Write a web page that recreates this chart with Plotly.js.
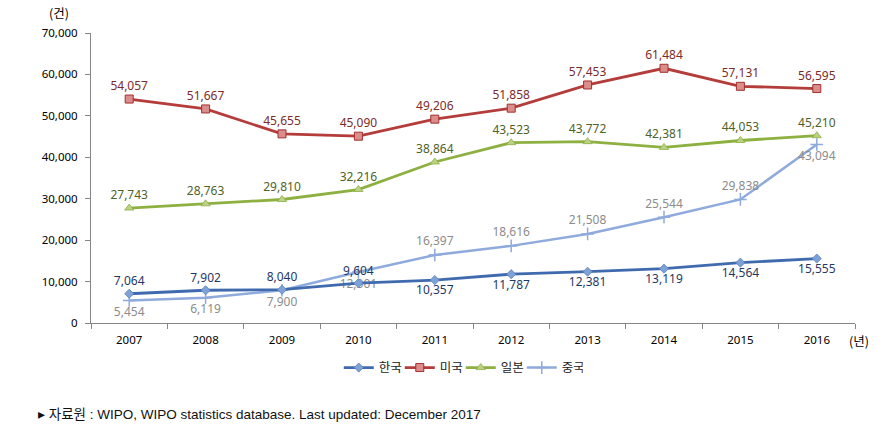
<!DOCTYPE html>
<html>
<head>
<meta charset="utf-8">
<script src="https://cdn.plot.ly/plotly-3.0.1.min.js"></script>
<style>html,body{margin:0;padding:0;background:#fff;}#chart{width:891px;height:441px;}</style>
</head>
<body>
<div id="chart"></div>
<script>
const years = ['2007','2008','2009','2010','2011','2012','2013','2014','2015','2016'];
const korea = [7064, 7902, 8040, 9604, 10357, 11787, 12381, 13119, 14564, 15555];
const usa = [54057, 51667, 45655, 45090, 49206, 51858, 57453, 61484, 57131, 56595];
const japan = [27743, 28763, 29810, 32216, 38864, 43523, 43772, 42381, 44053, 45210];
const china = [5454, 6119, 7900, 12301, 16397, 18616, 21508, 25544, 29838, 43094];
const seriesNames = ['한국', '미국', '일본', '중국'];
const yTicks = [0, 10000, 20000, 30000, 40000, 50000, 60000, 70000];

const koreaPos = ['top center','top center','top center','top center','bottom center','bottom center','bottom center','bottom center','bottom center','bottom center'];
const chinaPos = ['bottom center','bottom center','bottom center','bottom center','top center','top center','top center','top center','top center','bottom center'];

const F = '"Noto Sans", "Noto Sans CJK KR", sans-serif';
const FK = '"Noto Sans CJK KR", sans-serif';
const lblFont = (c) => ({family: F, size: 12, color: c});

const traces = [
  {x: years, y: china, name: seriesNames[3], type: 'scatter', mode: 'lines+markers+text',
   line: {color: '#8FAADC', width: 2.5},
   marker: {symbol: 'cross-thin', size: 9, line: {color: '#8FAADC', width: 1.5}, color: '#8FAADC'},
   texttemplate: '%{y:,}', textposition: chinaPos, textfont: lblFont('#8C8C8C'), legendrank: 4},
  {x: years, y: korea, name: seriesNames[0], type: 'scatter', mode: 'lines+markers+text',
   line: {color: '#3F6AAE', width: 2.8},
   marker: {symbol: 'diamond', size: 7, color: '#7EA2D6', line: {color: '#5A82BE', width: 0.8}},
   texttemplate: '%{y:,}', textposition: koreaPos, textfont: lblFont('#1F3864'), legendrank: 1},
  {x: years, y: usa, name: seriesNames[1], type: 'scatter', mode: 'lines+markers+text',
   line: {color: '#B43C3A', width: 2.8},
   marker: {symbol: 'square', size: 8, color: '#DB8D8B', line: {color: '#A0302E', width: 1}},
   texttemplate: '%{y:,}', textposition: 'top center', textfont: lblFont('#7B2B2B'), legendrank: 2},
  {x: years, y: japan, name: seriesNames[2], type: 'scatter', mode: 'lines+markers+text',
   line: {color: '#8DB041', width: 2.8},
   marker: {symbol: 'triangle-up', size: 8, color: '#BCD186', line: {color: '#8DB041', width: 0.8}},
   texttemplate: '%{y:,}', textposition: 'top center', textfont: lblFont('#4F6228'), legendrank: 3}
];

const layout = {
  width: 891, height: 441,
  margin: {l: 91, r: 36, t: 33, b: 118},
  paper_bgcolor: '#fff', plot_bgcolor: '#fff',
  font: {family: F, size: 11, color: '#000'},
  showlegend: true,
  legend: {orientation: 'h', x: 0.484, xanchor: 'center', y: -0.155, yanchor: 'middle',
           font: {family: FK, size: 12.5, color: '#222'}, traceorder: 'normal', itemwidth: 30,
           entrywidth: 16, entrywidthmode: 'pixels'},
  xaxis: {type: 'category', range: [-0.5, 9.5], showline: true, linecolor: '#868686', linewidth: 1,
          ticks: 'outside', tickson: 'boundaries', ticklen: 5, tickcolor: '#868686', ticklabelstandoff: 6,
          showgrid: false, zeroline: false, tickfont: {family: F, size: 11.5, color: '#000'}},
  yaxis: {range: [0, 70000], tickvals: yTicks, tickformat: ',', showline: true, linecolor: '#868686',
          linewidth: 1, ticks: 'outside', ticklen: 5, tickcolor: '#868686', showgrid: false, ticklabelstandoff: 5,
          zeroline: false, tickfont: {family: F, size: 11.5, color: '#000'}},
  annotations: [
    {text: '(건)', xref: 'paper', yref: 'paper', x: -0.042, y: 1.072, xanchor: 'center', yanchor: 'middle',
     showarrow: false, font: {family: FK, size: 12.5, color: '#000'}},
    {text: '(년)', xref: 'paper', yref: 'paper', x: 0.989, y: -0.06, xanchor: 'left', yanchor: 'middle',
     showarrow: false, font: {family: FK, size: 12.5, color: '#000'}},
    {text: '▸ 자료원 : WIPO, WIPO statistics database. Last updated: December 2017', xref: 'paper', yref: 'paper',
     x: -0.072, y: -0.317, xanchor: 'left', yanchor: 'middle', showarrow: false,
     font: {family: '"Liberation Sans", "Noto Sans CJK KR", sans-serif', size: 13.5, color: '#111'}}
  ]
};

Plotly.newPlot('chart', traces, layout, {displayModeBar: false, staticPlot: true});
</script>
</body>
</html>
